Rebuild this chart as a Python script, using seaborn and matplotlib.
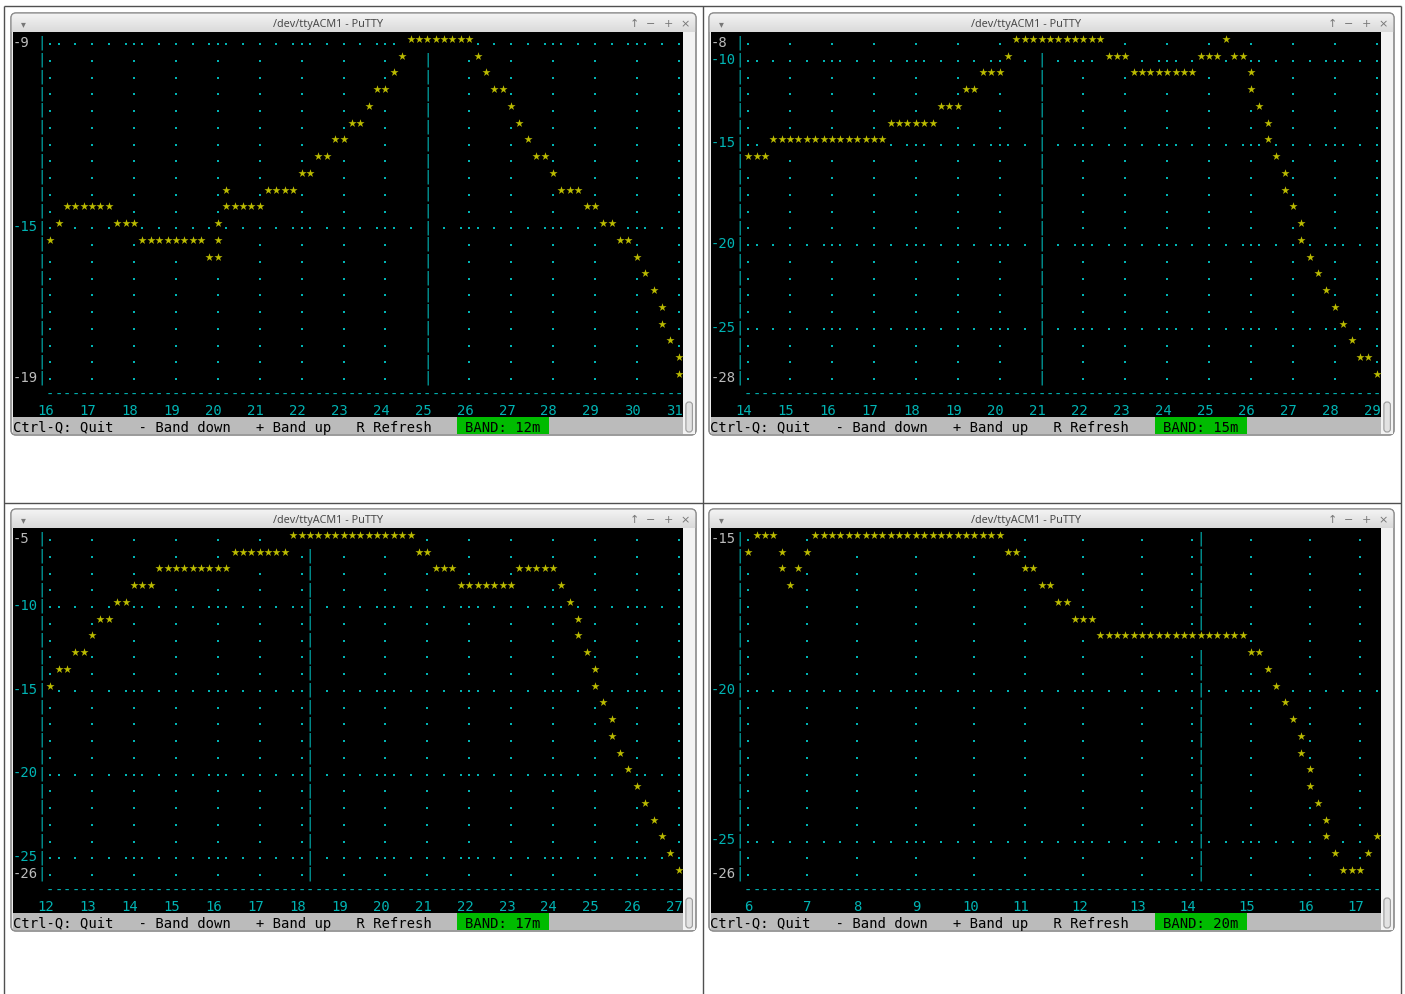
import numpy as np
import pandas as pd
import matplotlib
matplotlib.use("Agg")
import matplotlib.pyplot as plt
from matplotlib.patches import Rectangle, FancyBboxPatch
from matplotlib.colors import LinearSegmentedColormap
import seaborn as sns

sns.set_style("white")
plt.rcParams['font.family'] = ['DejaVu Sans']

# ---------------- data ----------------
BANDS = ["12m", "15m", "17m", "20m"]
WINDOW_TITLE = "/dev/ttyACM1 - PuTTY"
STATUS_TEXT = "Ctrl-Q: Quit   - Band down   + Band up   R Refresh"

# x-axis tick labels (MHz) and terminal columns per MHz
P1_XLABELS = [16, 17, 18, 19, 20, 21, 22, 23, 24, 25, 26, 27, 28, 29, 30, 31]
P2_XLABELS = [14, 15, 16, 17, 18, 19, 20, 21, 22, 23, 24, 25, 26, 27, 28, 29]
P3_XLABELS = [12, 13, 14, 15, 16, 17, 18, 19, 20, 21, 22, 23, 24, 25, 26, 27]
P4_XLABELS = [6, 7, 8, 9, 10, 11, 12, 13, 14, 15, 16, 17]
COLS_PER_MHZ = [5.0, 5.0, 5.0, 20.0 / 3.0]

# y-axis labels (dB) and the text rows where they appear
P1_YLABELS = [-9, -15, -19]
P1_YROWS = [0, 11, 20]
P2_YLABELS = [-8, -10, -15, -20, -25, -28]
P2_YROWS = [0, 1, 6, 12, 17, 20]
P3_YLABELS = [-5, -10, -15, -20, -25, -26]
P3_YROWS = [0, 4, 9, 14, 19, 20]
P4_YLABELS = [-15, -20, -25, -26]
P4_YROWS = [0, 9, 18, 20]

# rows drawn as dense dotted horizontal grid lines
P1_GRID_ROWS = [0, 11]
P2_GRID_ROWS = [1, 6, 12, 17]
P3_GRID_ROWS = [4, 9, 14, 19]
P4_GRID_ROWS = [9, 18]

# column of the band-centre marker line
MARKER_COLS = [49, 39, 35, 58]

# curve: (row, first column, last column) runs of '*'
P1_STARS = [(0, 47, 54), (1, 46, 46), (1, 55, 55), (2, 45, 45), (2, 56, 56),
            (3, 43, 44), (3, 57, 58), (4, 42, 42), (4, 59, 59), (5, 40, 41), (5, 60, 60),
            (6, 38, 39), (6, 61, 61), (7, 36, 37), (7, 62, 63), (8, 34, 35), (8, 64, 64),
            (9, 25, 25), (9, 30, 33), (9, 65, 67), (10, 6, 11), (10, 25, 29), (10, 68, 69),
            (11, 5, 5), (11, 12, 14), (11, 24, 24), (11, 70, 71),
            (12, 4, 4), (12, 15, 22), (12, 24, 24), (12, 72, 73),
            (13, 23, 24), (13, 74, 74), (14, 75, 75), (15, 76, 76), (16, 77, 77),
            (17, 77, 77), (18, 78, 78), (19, 79, 79), (20, 79, 79)]
P2_STARS = [(0, 36, 46), (0, 61, 61), (1, 35, 35), (1, 47, 49), (1, 58, 60), (1, 62, 63),
            (2, 32, 34), (2, 50, 57), (2, 64, 64), (3, 30, 31), (3, 64, 64),
            (4, 27, 29), (4, 65, 65), (5, 21, 26), (5, 66, 66), (6, 7, 20), (6, 66, 66),
            (7, 4, 6), (7, 67, 67), (8, 68, 68), (9, 68, 68), (10, 69, 69), (11, 70, 70),
            (12, 70, 70), (13, 71, 71), (14, 72, 72), (15, 73, 73), (16, 74, 74),
            (17, 75, 75), (18, 76, 76), (19, 77, 78), (20, 79, 79)]
P3_STARS = [(0, 33, 47), (1, 26, 32), (1, 48, 49), (2, 17, 25), (2, 50, 52), (2, 60, 64),
            (3, 14, 16), (3, 53, 59), (3, 65, 65), (4, 12, 13), (4, 66, 66),
            (5, 10, 11), (5, 67, 67), (6, 9, 9), (6, 67, 67), (7, 7, 8), (7, 68, 68),
            (8, 5, 6), (8, 69, 69), (9, 4, 4), (9, 69, 69), (10, 70, 70), (11, 71, 71),
            (12, 71, 71), (13, 72, 72), (14, 73, 73), (15, 74, 74), (16, 75, 75),
            (17, 76, 76), (18, 77, 77), (19, 78, 78), (20, 79, 79)]
P4_STARS = [(0, 5, 7), (0, 12, 34), (1, 4, 4), (1, 8, 8), (1, 11, 11), (1, 35, 36),
            (2, 8, 8), (2, 10, 10), (2, 37, 38), (3, 9, 9), (3, 39, 40), (4, 41, 42),
            (5, 43, 45), (6, 46, 63), (7, 64, 65), (8, 66, 66), (9, 67, 67), (10, 68, 68),
            (11, 69, 69), (12, 70, 70), (13, 70, 70), (14, 71, 71), (15, 71, 71),
            (16, 72, 72), (17, 73, 73), (18, 73, 73), (18, 79, 79), (19, 74, 74),
            (19, 78, 78), (20, 75, 77)]

PANELS = [
    dict(band=BANDS[0], xl=P1_XLABELS, cpm=COLS_PER_MHZ[0], yl=P1_YLABELS, yr=P1_YROWS,
         grid=P1_GRID_ROWS, marker=MARKER_COLS[0], stars=P1_STARS),
    dict(band=BANDS[1], xl=P2_XLABELS, cpm=COLS_PER_MHZ[1], yl=P2_YLABELS, yr=P2_YROWS,
         grid=P2_GRID_ROWS, marker=MARKER_COLS[1], stars=P2_STARS),
    dict(band=BANDS[2], xl=P3_XLABELS, cpm=COLS_PER_MHZ[2], yl=P3_YLABELS, yr=P3_YROWS,
         grid=P3_GRID_ROWS, marker=MARKER_COLS[2], stars=P3_STARS),
    dict(band=BANDS[3], xl=P4_XLABELS, cpm=COLS_PER_MHZ[3], yl=P4_YLABELS, yr=P4_YROWS,
         grid=P4_GRID_ROWS, marker=MARKER_COLS[3], stars=P4_STARS),
]

# ---------------- style / layout ----------------
CYAN = '#00b4b4'
YELLOW = '#bbbb00'
LGREY = '#bbbbbb'
GREEN = '#00bb00'
MONO = 'DejaVu Sans Mono'
FS = 10
CW, RH = 8.38, 16.75
NCOL, NROW = 80, 24
PLOT_ROWS = 21
BASE = 0.36
W, H = 1405, 995
WIN_W, WIN_H, TITLE_H = 685, 422, 18.5
ORIGINS = [(11, 14), (709, 14), (11, 510), (709, 510)]

fig = plt.figure(figsize=(W / 100, H / 100), dpi=100)
fig.patch.set_facecolor('white')
bg = fig.add_axes([0, 0, 1, 1])
bg.axis('off')

# quadrant frame lines
for x in (4, 703, 1401):
    bg.plot([x, x], [7, 995], color='#505050', lw=1.0, solid_capstyle='butt')
for y in (7, 504):
    bg.plot([4, 1401], [y, y], color='#505050', lw=1.0, solid_capstyle='butt')

title_cmap = LinearSegmentedColormap.from_list('tb', ['#f4f4f4', '#dadada'])


def draw_window(wx, wy):
    frame = FancyBboxPatch((wx, wy), WIN_W, WIN_H,
                           boxstyle="round,pad=0,rounding_size=5",
                           fc='#ececec', ec='#8e8e8e', lw=0.9, zorder=1)
    bg.add_patch(frame)
    grad = np.linspace(0, 1, 50)[:, None]
    im = bg.imshow(grad, cmap=title_cmap, aspect='auto', zorder=2,
                   extent=(wx, wx + WIN_W, wy + TITLE_H, wy), interpolation='bilinear')
    im.set_clip_path(frame)
    bg.add_patch(FancyBboxPatch((wx, wy), WIN_W, WIN_H,
                                boxstyle="round,pad=0,rounding_size=5",
                                fc='none', ec='#8e8e8e', lw=0.9, zorder=3))
    bg.text(wx + 317, wy + 10.2, WINDOW_TITLE, ha='center', va='center',
            fontsize=7.8, color='#4a4a4a', family=['Noto Sans', 'DejaVu Sans'], zorder=4)
    bg.text(wx + 12, wy + 10, '\u25be', ha='center', va='center', fontsize=7,
            color='#777777', zorder=4)
    for dx, ch in zip((623, 640, 657, 674), ('\u2191', '\u2212', '+', '\u00d7')):
        bg.text(wx + dx, wy + 10, ch, ha='center', va='center', fontsize=8,
                color='#777777', zorder=4)
    # scrollbar trough and thumb
    sx = wx + 1.5 + NCOL * CW
    bg.add_patch(Rectangle((sx, wy + TITLE_H), wx + WIN_W - 1 - sx, NROW * RH,
                           fc='#f3f3f3', ec='none', zorder=3))
    bg.add_patch(FancyBboxPatch((sx + 3, wy + 389), 6.5, 30,
                                boxstyle="round,pad=0,rounding_size=3",
                                fc='#e2e2e2', ec='#9a9a9a', lw=0.8, zorder=4))


def draw_terminal(wx, wy, p):
    tx, ty = wx + 1.5, wy + TITLE_H
    ax = fig.add_axes([tx / W, 1 - (ty + NROW * RH) / H, NCOL * CW / W, NROW * RH / H])
    ax.add_patch(Rectangle((-0.5, -0.5), NCOL, NROW, fc='black', ec='none', zorder=0))

    stars = pd.DataFrame([(c, r) for (r, a, b) in p['stars'] for c in range(a, b + 1)],
                         columns=['col', 'row'])
    star_cells = set(zip(stars['col'], stars['row']))
    gcols = [4 + int(round((v - p['xl'][0]) * p['cpm'])) for v in p['xl']]

    dots = []
    for r in range(PLOT_ROWS):
        cols = sorted(set(range(5, NCOL, 2)) | set(gcols)) if r in p['grid'] else gcols
        for c in cols:
            if (c, r) not in star_cells and c != p['marker']:
                dots.append((c, r))
    dots = pd.DataFrame(dots, columns=['col', 'row'])

    sns.scatterplot(x=dots['col'], y=dots['row'] + 0.25, marker='s', s=2.4,
                    color=CYAN, linewidth=0, legend=False, ax=ax, zorder=2)
    sns.scatterplot(x=stars['col'], y=stars['row'] - 0.06, marker='*', s=38,
                    color=YELLOW, linewidth=0, legend=False, ax=ax, zorder=3)

    tk = dict(family=MONO, fontsize=FS, va='baseline', zorder=4)
    # y axis and marker line
    for r in range(PLOT_ROWS):
        ax.text(3, r + BASE, '|', ha='center', color=CYAN, **tk)
        if (p['marker'], r) not in star_cells:
            ax.text(p['marker'], r + BASE, '|', ha='center', color=CYAN, **tk)
    # x axis dashes
    for c in range(4, NCOL):
        ax.text(c, 21 + BASE, '-', ha='center', color=CYAN, **tk)
    # x labels (right-aligned to grid column)
    for v, c in zip(p['xl'], gcols):
        ax.text(c + 0.5, 22 + BASE, str(v), ha='right', color=CYAN, **tk)
    # y labels
    n = len(p['yl'])
    for i, (v, r) in enumerate(zip(p['yl'], p['yr'])):
        col = LGREY if i in (0, n - 1) else CYAN
        ax.text(-0.5, r + BASE, str(v), ha='left', color=col, **tk)
    # status bar
    ax.add_patch(Rectangle((-0.5, 22.5), NCOL, 1, fc=LGREY, ec='none', zorder=1))
    ax.add_patch(Rectangle((52.5, 22.5), 11, 1, fc=GREEN, ec='none', zorder=1))
    ax.text(-0.5, 23 + BASE, STATUS_TEXT, ha='left', color='black', **tk)
    ax.text(53.5, 23 + BASE, 'BAND: ' + p['band'], ha='left', color='black', **tk)

    ax.set_xlim(-0.5, NCOL - 0.5)
    ax.set_ylim(NROW - 0.5, -0.5)
    ax.axis('off')


for (wx, wy) in ORIGINS:
    draw_window(wx, wy)
for (wx, wy), p in zip(ORIGINS, PANELS):
    draw_terminal(wx, wy, p)

bg.set_xlim(0, W)
bg.set_ylim(H, 0)
fig.savefig('out.png', dpi=100, facecolor='white')
